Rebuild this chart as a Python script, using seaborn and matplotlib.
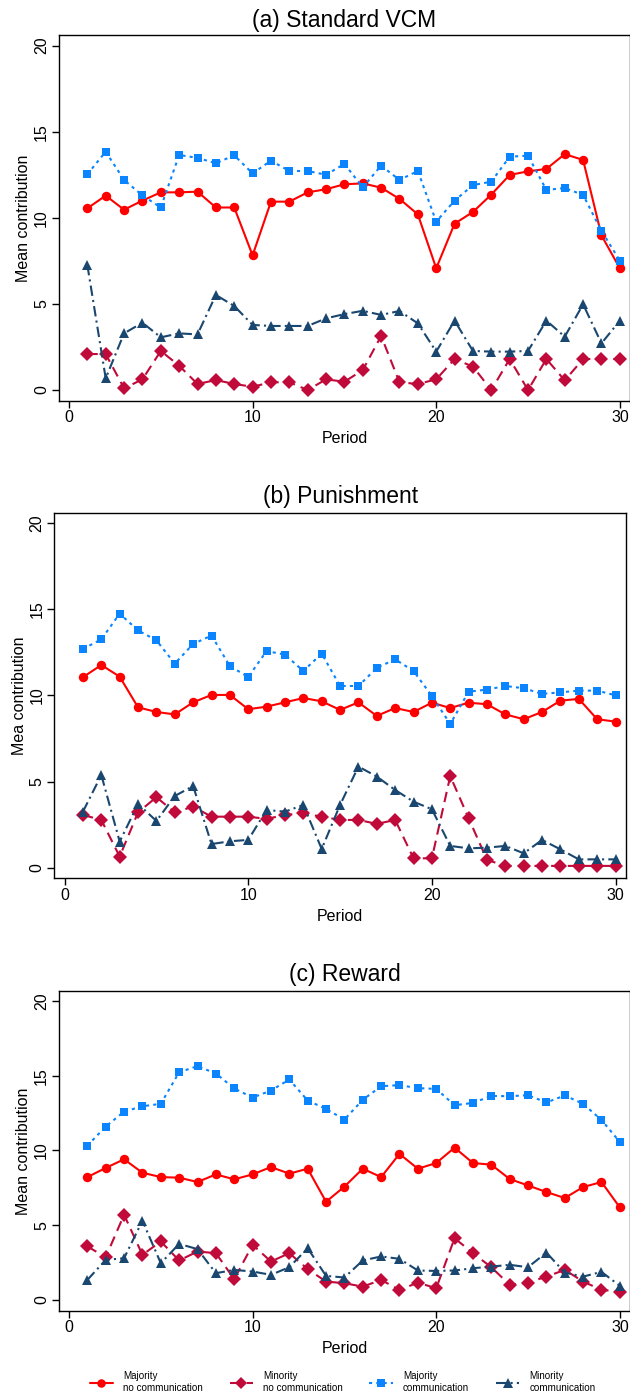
import seaborn as sns
import matplotlib.pyplot as plt
import numpy as np
import pandas as pd

periods = list(range(1, 31))

# (a) Standard VCM
vcm_maj_nocomm = [10.55, 11.29, 10.47, 11.0, 11.48, 11.48, 11.52, 10.6, 10.6, 7.82,
                  10.94, 10.94, 11.48, 11.66, 11.95, 12.0, 11.75, 11.1, 10.2, 7.07,
                  9.66, 10.34, 11.35, 12.49, 12.7, 12.84, 13.7, 13.36, 8.98, 7.07]
vcm_min_nocomm = [2.09, 2.09, 0.1, 0.62, 2.27, 1.41, 0.35, 0.58, 0.35, 0.19,
                  0.45, 0.45, 0.0, 0.62, 0.48, 1.16, 3.14, 0.45, 0.35, 0.62,
                  1.8, 1.36, 0.0, 1.8, 0.0, 1.8, 0.56, 1.8, 1.8, 1.8]
vcm_maj_comm = [12.53, 13.84, 12.2, 11.3, 10.6, 13.65, 13.48, 13.17, 13.63, 12.58,
                13.32, 12.72, 12.72, 12.5, 13.13, 11.77, 13.03, 12.2, 12.72, 9.78,
                11.0, 11.9, 12.1, 13.55, 13.61, 11.62, 11.73, 11.33, 9.24, 7.51]
vcm_min_comm = [7.26, 0.68, 3.29, 3.91, 3.06, 3.29, 3.23, 5.52, 4.88, 3.78,
                3.72, 3.72, 3.72, 4.16, 4.41, 4.6, 4.36, 4.59, 3.87, 2.23,
                4.03, 2.27, 2.23, 2.23, 2.27, 4.03, 3.1, 4.98, 2.71, 4.03]

# (b) Punishment
pun_maj_nocomm = [11.06, 11.77, 11.09, 9.31, 9.04, 8.9, 9.6, 10.03, 10.03, 9.2,
                  9.35, 9.6, 9.85, 9.66, 9.16, 9.6, 8.81, 9.27, 9.04, 9.58,
                  9.27, 9.58, 9.49, 8.9, 8.62, 9.04, 9.7, 9.8, 8.62, 8.48]
pun_min_nocomm = [3.06, 2.77, 0.64, 3.21, 4.09, 3.21, 3.54, 2.96, 2.96, 2.96,
                  2.83, 3.06, 3.16, 2.96, 2.77, 2.77, 2.54, 2.77, 0.54, 0.54,
                  5.32, 2.87, 0.45, 0.1, 0.1, 0.1, 0.1, 0.1, 0.1, 0.1]
pun_maj_comm = [12.7, 13.26, 14.75, 13.78, 13.2, 11.85, 12.99, 13.48, 11.71, 11.07,
                12.58, 12.37, 11.42, 12.43, 10.55, 10.55, 11.6, 12.1, 11.42, 9.97,
                8.34, 10.22, 10.34, 10.55, 10.42, 10.09, 10.18, 10.28, 10.28, 10.01]
pun_min_comm = [3.25, 5.38, 1.51, 3.7, 2.71, 4.16, 4.74, 1.37, 1.53, 1.61,
                3.35, 3.25, 3.64, 1.08, 3.64, 5.87, 5.29, 4.51, 3.83, 3.39,
                1.26, 1.12, 1.16, 1.26, 0.83, 1.61, 1.06, 0.48, 0.48, 0.48]

# (c) Reward
rew_maj_nocomm = [8.22, 8.83, 9.41, 8.51, 8.22, 8.18, 7.89, 8.4, 8.07, 8.4,
                  8.89, 8.45, 8.78, 6.57, 7.58, 8.78, 8.22, 9.77, 8.78, 9.16,
                  10.19, 9.16, 9.05, 8.09, 7.66, 7.22, 6.82, 7.55, 7.89, 6.19]
rew_min_nocomm = [3.58, 2.86, 5.7, 3.02, 3.91, 2.64, 3.24, 3.13, 1.39, 3.69,
                  2.57, 3.13, 2.06, 1.23, 1.12, 0.89, 1.34, 0.67, 1.16, 0.78,
                  4.13, 3.13, 2.19, 1.01, 1.16, 1.56, 2.01, 1.23, 0.67, 0.56]
rew_maj_comm = [10.32, 11.6, 12.6, 12.96, 13.12, 15.24, 15.64, 15.15, 14.15, 13.54,
                14.01, 14.75, 13.34, 12.78, 12.07, 13.39, 14.3, 14.37, 14.17, 14.12,
                13.03, 13.18, 13.65, 13.63, 13.7, 13.21, 13.68, 13.12, 12.04, 10.57]
rew_min_comm = [1.34, 2.68, 2.79, 5.3, 2.46, 3.75, 3.4, 1.79, 2.01, 1.9,
                1.68, 2.19, 3.46, 1.61, 1.5, 2.64, 2.91, 2.75, 1.97, 1.94,
                1.97, 2.12, 2.23, 2.35, 2.19, 3.17, 1.83, 1.56, 1.88, 0.94]

titles = ["(a) Standard VCM", "(b) Punishment", "(c) Reward"]
ylabels = ["Mean contribution", "Mea contribution", "Mean contribution"]
series_labels = ["Majority\nno communication", "Minority\nno communication",
                 "Majority\ncommunication", "Minority\ncommunication"]
panel_data = [
    [vcm_maj_nocomm, vcm_min_nocomm, vcm_maj_comm, vcm_min_comm],
    [pun_maj_nocomm, pun_min_nocomm, pun_maj_comm, pun_min_comm],
    [rew_maj_nocomm, rew_min_nocomm, rew_maj_comm, rew_min_comm],
]

styles = [
    dict(color="#FF0000", marker="o", markersize=6.8, linestyle="-"),
    dict(color="#C00A3A", marker="D", markersize=6.8, linestyle=(0, (5, 3))),
    dict(color="#0A84FF", marker="s", markersize=6.3, linestyle=(0, (1.5, 2))),
    dict(color="#1A476F", marker="^", markersize=7.3, linestyle=(0, (5, 2, 1, 2))),
]

sns.set_theme(style="white")
plt.rcParams["font.family"] = ["Liberation Sans", "DejaVu Sans"]
plt.rcParams["text.color"] = "black"
plt.rcParams["axes.labelcolor"] = "black"

W, H = 630, 1396
fig = plt.figure(figsize=(W / 100, H / 100), dpi=100)

# pixel boxes: left, right, top, bottom
boxes = [(58.7, 630.3, 35.3, 400.7), (54.3, 626.0, 513.3, 878.3), (58.7, 630.3, 991.0, 1310.7)]
ylims = [(-0.62, 20.6), (-0.62, 20.58), (-0.72, 20.67)]
title_y = [20.7, 496.7, 975.0]

for i, (l, r, t, b) in enumerate(boxes):
    ax = fig.add_axes([l / W, 1 - b / H, (r - l) / W, (b - t) / H])
    for vals, st in zip(panel_data[i], styles):
        df = pd.DataFrame({"Period": periods, "value": vals})
        sns.lineplot(data=df, x="Period", y="value", ax=ax, color=st["color"],
                     marker=st["marker"], markersize=st["markersize"],
                     markeredgewidth=0, linestyle=st["linestyle"], linewidth=1.5,
                     errorbar=None)
    ax.set_xlim(-0.56, 30.57)
    ax.set_ylim(*ylims[i])
    ax.set_xticks([0, 10, 20, 30])
    ax.set_yticks([0, 5, 10, 15, 20])
    ax.tick_params(axis="both", direction="out", length=5, width=1, color="black",
                   labelsize=11.5, labelcolor="black", pad=2, bottom=True, left=True)
    ax.tick_params(axis="y", labelrotation=90)
    for lab in ax.get_yticklabels():
        lab.set_va("center")
    ax.set_xlabel("Period", fontsize=11.5, labelpad=4)
    ax.set_ylabel(ylabels[i], fontsize=11.5, labelpad=2)
    for sp in ax.spines.values():
        sp.set_color("black")
        sp.set_linewidth(1.0)
    fig.text((l + r) / 2 / W, 1 - title_y[i] / H, titles[i], ha="center", va="center",
             fontsize=16.5, color="black")

handles = [plt.Line2D([], [], color=st["color"], marker=st["marker"],
                      markersize=st["markersize"] * 0.9, markeredgewidth=0,
                      linestyle=st["linestyle"], linewidth=1.5) for st in styles]
fig.legend(handles, series_labels, loc="center", bbox_to_anchor=(342.5 / W, 1 - 1382 / H),
           ncol=4, frameon=False, fontsize=7.1, handlelength=2.4, handletextpad=1.0,
           columnspacing=2.7, labelcolor="black")

fig.savefig("out.png", dpi=100, facecolor="white")
